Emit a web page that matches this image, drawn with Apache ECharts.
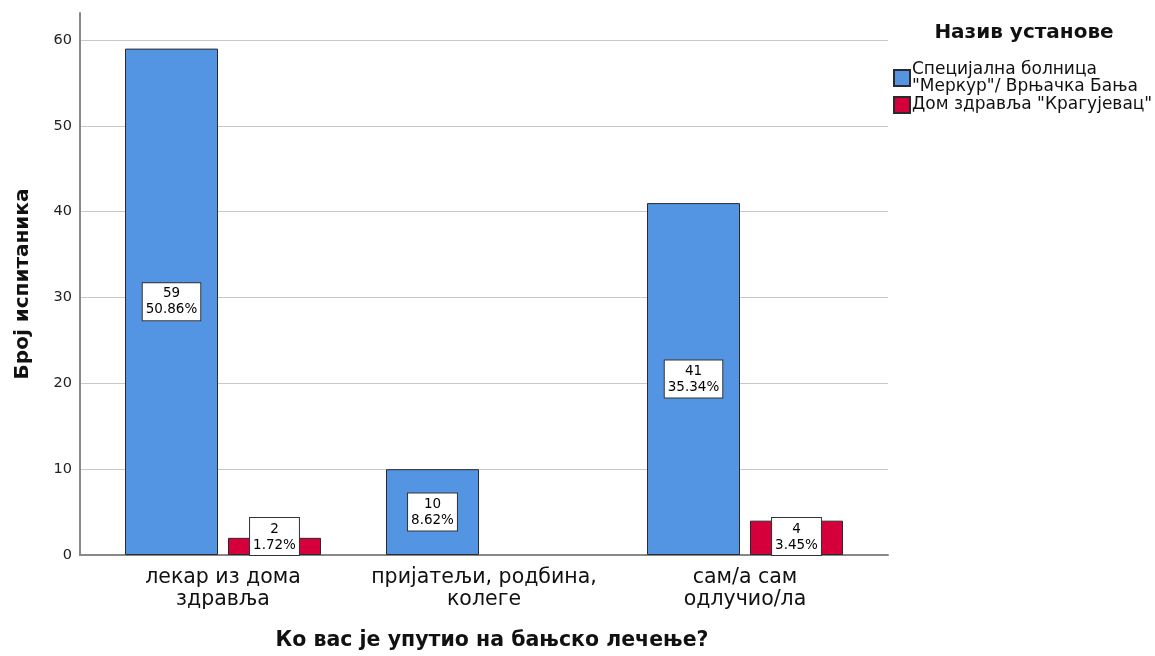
<!DOCTYPE html>
<html>
<head>
<meta charset="utf-8">
<script src="https://cdn.jsdelivr.net/npm/echarts@6/dist/echarts.min.js"></script>
<style>html,body{margin:0;padding:0;background:#fff;}#c{width:1155px;height:656px;}</style>
</head>
<body>
<div id="c"></div>
<script>
var categories = ['лекар из дома\nздравља', 'пријатељи, родбина,\nколеге', 'сам/а сам\nодлучио/ла'];
var seriesNames = ['Специјална болница\n"Меркур"/ Врњачка Бања', 'Дом здравља "Крагујевац"'];
var countsMerkur = [59, 10, 41];
var percentMerkur = ['50.86%', '8.62%', '35.34%'];
var countsKrag = [2, null, 4];
var percentKrag = ['1.72%', '', '3.45%'];
var yTicks = [0, 10, 20, 30, 40, 50, 60];
var legendTitle = 'Назив установе';
var xTitle = 'Ко вас је упутио на бањско лечење?';
var yTitle = 'Број испитаника';

var FONT = 'DejaVu Sans';
var chart = echarts.init(document.getElementById('c'));
var yMax = 63.15;

function mkLabel(perc, pos) {
  return {
    show: true, position: pos, distance: 0, color: '#000', fontFamily: FONT, fontSize: 13.5, lineHeight: 16,
    backgroundColor: '#fff', borderColor: '#333', borderWidth: 1, padding: [3, 3, 2, 3],
    formatter: function (p) { return p.value + '\n' + perc[p.dataIndex]; }
  };
}

var gridColors = yTicks.map(function () { return '#c8c8c8'; });
gridColors.push('rgba(0,0,0,0)');

chart.setOption({
  animation: false,
  textStyle: { fontFamily: FONT },
  grid: [
    { left: 80, right: 267, top: 13, bottom: 101 },
    { left: 92.5, right: 279.5, top: 13, bottom: 101 }
  ],
  xAxis: [
    { type: 'value', gridIndex: 0, min: 0, max: 1, axisLine: { show: true, lineStyle: { color: '#888', width: 2 } },
      axisTick: { show: false }, axisLabel: { show: false }, splitLine: { show: false } },
    { type: 'category', gridIndex: 1, data: categories, axisLine: { show: false }, axisTick: { show: false },
      axisLabel: { interval: 0, hideOverlap: false, color: '#111', fontSize: 20.5, lineHeight: 22, margin: 12, fontFamily: FONT } }
  ],
  yAxis: [
    { type: 'value', gridIndex: 0, min: 0, max: yMax, interval: 10,
      axisLine: { show: true, lineStyle: { color: '#888', width: 2 } }, axisTick: { show: false },
      axisLabel: { color: '#222', fontSize: 14.5, margin: 8, fontFamily: FONT,
        formatter: function (v) { return yTicks.indexOf(v) >= 0 ? String(v) : ''; } },
      splitLine: { show: true, lineStyle: { color: gridColors, width: 1 } },
      name: yTitle, nameLocation: 'middle', nameGap: 47, nameRotate: 90,
      nameTextStyle: { fontSize: 20, fontWeight: 'bold', color: '#111', fontFamily: FONT } },
    { type: 'value', gridIndex: 1, min: 0, max: yMax, show: false, splitLine: { show: false } }
  ],
  legend: {
    orient: 'vertical', left: 888, top: 56, itemWidth: 16, itemHeight: 16, itemGap: 1, icon: 'rect',
    textStyle: { fontSize: 17, lineHeight: 17, color: '#111', fontFamily: FONT, padding: [0, 0, 0, -3] },
    data: seriesNames
  },
  graphic: [
    { type: 'text', x: 1024, y: 33, style: { text: legendTitle, fill: '#111', font: 'bold 20px "DejaVu Sans"', textAlign: 'center', textVerticalAlign: 'middle' } },
    { type: 'text', x: 492, y: 641, style: { text: xTitle, fill: '#111', font: 'bold 20.5px "DejaVu Sans"', textAlign: 'center', textVerticalAlign: 'middle' } }
  ],
  series: [
    { name: seriesNames[0], type: 'bar', xAxisIndex: 1, yAxisIndex: 1, data: countsMerkur,
      barWidth: 93, barGap: '10.75%',
      itemStyle: { color: '#5394e3', borderColor: '#2a2a2a', borderWidth: 1 },
      label: mkLabel(percentMerkur, 'inside') },
    { name: seriesNames[1], type: 'bar', xAxisIndex: 1, yAxisIndex: 1, data: countsKrag,
      barWidth: 93, barGap: '10.75%',
      itemStyle: { color: '#d5003b', borderColor: '#2a2a2a', borderWidth: 1 },
      label: mkLabel(percentKrag, 'insideBottom') }
  ]
});
</script>
</body>
</html>
